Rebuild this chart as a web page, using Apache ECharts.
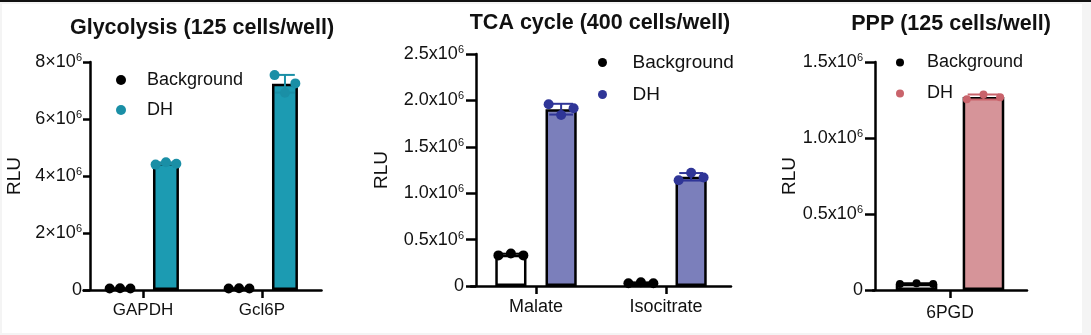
<!DOCTYPE html>
<html><head><meta charset="utf-8">
<script src="https://cdn.jsdelivr.net/npm/echarts@6/dist/echarts.min.js"></script>
<style>
html,body{margin:0;padding:0;width:1091px;height:335px;overflow:hidden;background:#f4f4f4;}
#topbar{position:absolute;left:0;top:0;width:1091px;height:2px;background:#111;}
#paper{position:absolute;left:2px;top:4px;width:1080px;height:329px;background:#fff;}
#chart{position:absolute;left:0;top:0;width:1091px;height:335px;}
</style></head><body>
<div id="topbar"></div><div id="paper"></div><div id="chart"></div>
<script>
// ---------- data ----------
const glyCategories = ['GAPDH', 'Gcl6P'];
const glyBackground = [[0.05e6, 0.06e6, 0.05e6], [0.05e6, 0.06e6, 0.05e6]];
const glyDH = [[4.40e6, 4.48e6, 4.43e6], [7.54e6, 6.92e6, 7.25e6]];
const glyTickLabels = ['0', '2×10{s|6}', '4×10{s|6}', '6×10{s|6}', '8×10{s|6}'];

const tcaCategories = ['Malate', 'Isocitrate'];
const tcaBackground = [[0.33e6, 0.35e6, 0.33e6], [0.03e6, 0.04e6, 0.03e6]];
const tcaDH = [[1.958e6, 1.843e6, 1.915e6], [1.14e6, 1.22e6, 1.17e6]];
const tcaTickLabels = ['0', '0.5x10{s|6}', '1.0x10{s|6}', '1.5x10{s|6}', '2.0x10{s|6}', '2.5x10{s|6}'];

const pppCategories = ['6PGD'];
const pppBackground = [[0.040e6, 0.045e6, 0.040e6]];
const pppDH = [[1.255e6, 1.287e6, 1.268e6]];
const pppTickLabels = ['0', '0.5x10{s|6}', '1.0x10{s|6}', '1.5x10{s|6}'];

const groupNames = ['Background', 'DH'];
const panelTitles = ['Glycolysis (125 cells/well)', 'TCA cycle (400 cells/well)', 'PPP (125 cells/well)'];

// ---------- styling / layout ----------
const FONT = "'Liberation Sans', Arial, sans-serif";
const panels = [
  { title: panelTitles[0], cats: glyCategories, bg: glyBackground, dh: glyDH, ticks: glyTickLabels,
    max: 8e6, interval: 2e6, grid: { left: 83.5, top: 62, width: 238, height: 228 }, yOffset: -6.5,
    barPct: 0.218, gap: 0.77, barColor: '#1c9bb2', dotColor: '#1a8fa6', r: 5,
    titleX: 197, titleTop: 12, legendLeft: 111, legendTop: 66, legendItemW: 42, legendDot: 10, legendFont: 18, legendGap: 12,
    tickLen: 7, labelMargin: 8, labelFont: 18, xFont: 17, xMargin: 12, nameGap: 66 },
  { title: panelTitles[1], cats: tcaCategories, bg: tcaBackground, dh: tcaDH, ticks: tcaTickLabels,
    max: 2.5e6, interval: 0.5e6, grid: { left: 471, top: 54, width: 260, height: 232 }, yOffset: -5,
    barPct: 0.24, gap: 0.61, barColor: '#7b7fbb', dotColor: '#2f3597', r: 5,
    titleX: 595, titleTop: 7, legendLeft: 593, legendTop: 48, legendItemW: 50, legendDot: 9, legendFont: 19, legendGap: 13,
    tickLen: 10, labelMargin: 12, labelFont: 18, xFont: 18, xMargin: 12, nameGap: 85 },
  { title: panelTitles[2], cats: pppCategories, bg: pppBackground, dh: pppDH, ticks: pppTickLabels,
    max: 1.5e6, interval: 0.5e6, grid: { left: 873, top: 62, width: 154, height: 228 }, yOffset: -2,
    barPct: 0.27, gap: 0.61, barColor: '#d69499', dotColor: '#c9636b', r: 4,
    titleX: 946, titleTop: 8, legendLeft: 891, legendTop: 48.5, legendItemW: 44, legendDot: 8, legendFont: 18, legendGap: 13,
    tickLen: 10, labelMargin: 12, labelFont: 18, xFont: 17.5, xMargin: 14, nameGap: 76 }
];

function mean(a) { return a.reduce((s, v) => s + v, 0) / a.length; }
function sd(a) { const m = mean(a); return Math.sqrt(a.reduce((s, v) => s + (v - m) * (v - m), 0) / (a.length - 1)); }

function makeRender(side, pct, gap, color, r) {
  return function (params, api) {
    const cat = api.value(0);
    const vals = [api.value(1), api.value(2), api.value(3)];
    const band = api.size([1, 0])[0];
    const w = band * pct;
    const cx = api.coord([cat, 0])[0] + side * w * (1 + gap) / 2;
    const m = mean(vals), s = sd(vals);
    const yTop = api.coord([cat, m + s])[1];
    const yBot = api.coord([cat, m - s])[1];
    const cap = w * 0.38;
    const ls = { stroke: color, lineWidth: 2 };
    const children = [
      { type: 'line', shape: { x1: cx, y1: yTop, x2: cx, y2: yBot }, style: ls },
      { type: 'line', shape: { x1: cx - cap, y1: yTop, x2: cx + cap, y2: yTop }, style: ls },
      { type: 'line', shape: { x1: cx - cap, y1: yBot, x2: cx + cap, y2: yBot }, style: ls }
    ];
    vals.forEach((v, k) => {
      const p = api.coord([cat, v]);
      children.push({ type: 'circle', shape: { cx: cx + (k - 1) * w * 0.4, cy: p[1], r: r }, style: { fill: color } });
    });
    return { type: 'group', children: children };
  };
}

const option = {
  animation: false,
  textStyle: { fontFamily: FONT, color: '#111' },
  title: [], legend: [], grid: [], xAxis: [], yAxis: [], series: []
};

panels.forEach((p, i) => {
  const suffix = ' '.repeat(i);
  const bgName = groupNames[0] + suffix, dhName = groupNames[1] + suffix;
  option.title.push({ text: p.title, left: p.titleX, top: p.titleTop, textAlign: 'center',
    textStyle: { fontFamily: FONT, fontWeight: 'bold', fontSize: 21.5, color: '#111' } });
  option.grid.push(Object.assign({ containLabel: false }, p.grid));
  option.xAxis.push({
    type: 'category', gridIndex: i, data: p.cats, boundaryGap: true,
    axisLine: { show: true, lineStyle: { color: '#000', width: 2.5 } },
    axisTick: { show: true, alignWithLabel: true, length: 8, lineStyle: { color: '#000', width: 2.5 } },
    axisLabel: { fontFamily: FONT, fontSize: p.xFont, color: '#111', margin: p.xMargin },
    splitLine: { show: false }
  });
  option.yAxis.push({
    type: 'value', gridIndex: i, min: 0, max: p.max, interval: p.interval, offset: p.yOffset,
    axisLine: { show: true, lineStyle: { color: '#000', width: 2.5 } },
    axisTick: { show: true, length: p.tickLen, lineStyle: { color: '#000', width: 2.5 } },
    splitLine: { show: false },
    axisLabel: { fontFamily: FONT, fontSize: p.labelFont, lineHeight: 19, color: '#111', margin: p.labelMargin,
      formatter: (v, idx) => p.ticks[Math.round(v / p.interval)],
      rich: { s: { fontFamily: FONT, fontSize: 11, lineHeight: 11, verticalAlign: 'top', color: '#111' } } },
    name: 'RLU', nameLocation: 'middle', nameGap: p.nameGap,
    nameTextStyle: { fontFamily: FONT, fontSize: 19, color: '#111' }
  });
  option.legend.push({
    orient: 'vertical', left: p.legendLeft, top: p.legendTop, icon: 'circle',
    itemWidth: p.legendItemW, itemHeight: p.legendDot, itemGap: p.legendGap, selectedMode: false,
    formatter: n => n.trim(),
    textStyle: { fontFamily: FONT, fontSize: p.legendFont, color: '#111', padding: [0, 0, 0, 0] },
    data: [
      { name: bgName, itemStyle: { color: '#000', borderWidth: 0 } },
      { name: dhName, itemStyle: { color: p.dotColor, borderWidth: 0 } }
    ]
  });
  const barCommon = { type: 'bar', xAxisIndex: i, yAxisIndex: i, barWidth: (p.barPct * 100) + '%', barGap: (p.gap * 100) + '%', z: 2 };
  option.series.push(Object.assign({}, barCommon, { name: bgName, data: p.bg.map(mean),
    itemStyle: { color: '#fff', borderColor: '#000', borderWidth: 2.5 } }));
  option.series.push(Object.assign({}, barCommon, { name: dhName, data: p.dh.map(mean),
    itemStyle: { color: p.barColor, borderColor: '#000', borderWidth: 2.5 } }));
  option.series.push({ type: 'custom', xAxisIndex: i, yAxisIndex: i, z: 5, silent: true,
    encode: { x: 0, y: [1, 2, 3] },
    renderItem: makeRender(-1, p.barPct, p.gap, '#000', p.r),
    data: p.bg.map((a, k) => [k].concat(a)) });
  option.series.push({ type: 'custom', xAxisIndex: i, yAxisIndex: i, z: 5, silent: true,
    encode: { x: 0, y: [1, 2, 3] },
    renderItem: makeRender(1, p.barPct, p.gap, p.dotColor, p.r),
    data: p.dh.map((a, k) => [k].concat(a)) });
});

const chart = echarts.init(document.getElementById('chart'), null, { renderer: 'canvas' });
chart.setOption(option);
</script>
</body></html>
